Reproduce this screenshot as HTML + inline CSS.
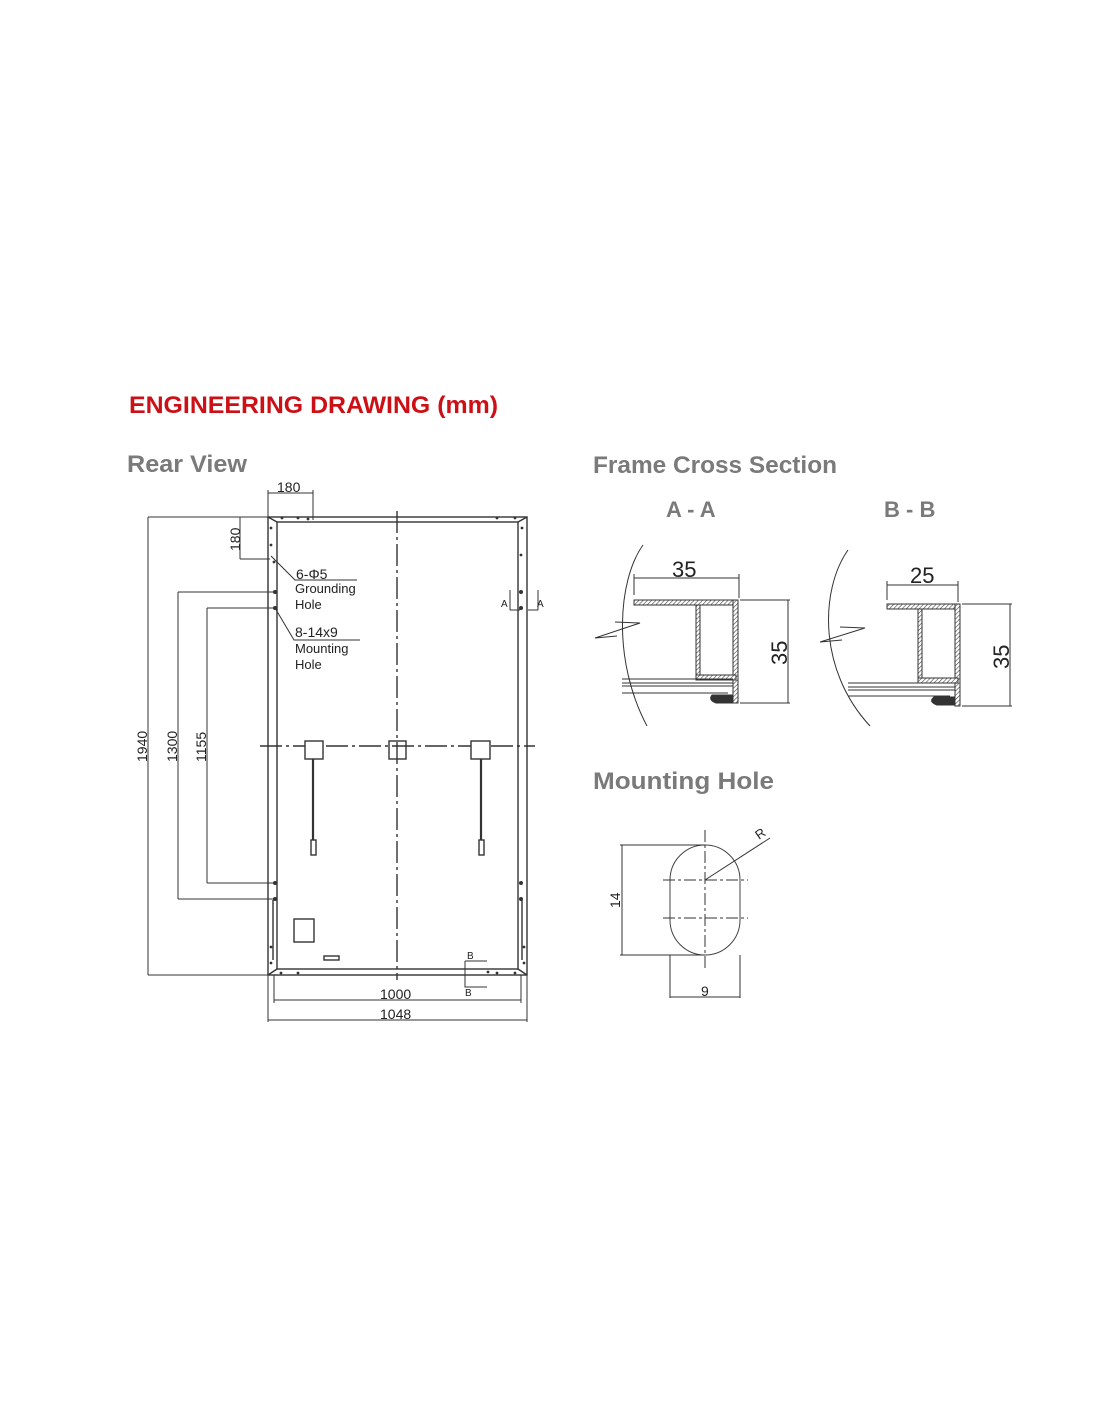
<!DOCTYPE html>
<html><head><meta charset="utf-8"><style>
html,body{margin:0;padding:0;background:#fff;}
svg{display:block;}
text{font-family:"Liberation Sans",sans-serif;}
</style></head><body>
<svg width="1100" height="1422" viewBox="0 0 1100 1422" xmlns="http://www.w3.org/2000/svg">
<defs>
<pattern id="h" width="3" height="3" patternUnits="userSpaceOnUse" patternTransform="rotate(45)"><rect width="3" height="3" fill="#fff"/><line x1="0" y1="0" x2="0" y2="3" stroke="#444" stroke-width="1.2"/></pattern>
</defs>
<text x="129" y="413" font-size="24" font-weight="bold" fill="#cc1016" textLength="369" lengthAdjust="spacingAndGlyphs">ENGINEERING DRAWING (mm)</text>
<text x="127" y="472" font-size="24" font-weight="bold" fill="#7a7a7a" textLength="120" lengthAdjust="spacingAndGlyphs">Rear View</text>
<text x="593" y="473" font-size="24" font-weight="bold" fill="#7a7a7a" textLength="244" lengthAdjust="spacingAndGlyphs">Frame Cross Section</text>
<text x="666" y="517" font-size="22" font-weight="bold" fill="#7a7a7a">A - A</text>
<text x="884" y="517" font-size="22" font-weight="bold" fill="#7a7a7a">B - B</text>
<text x="593" y="789" font-size="24" font-weight="bold" fill="#7a7a7a" textLength="181" lengthAdjust="spacingAndGlyphs">Mounting Hole</text>

<g stroke="#333" fill="none" stroke-width="1.4">
<rect x="268" y="517" width="259" height="458"/>
<rect x="277" y="522" width="241" height="447"/>
<path d="M268 517 L277 522 M527 517 L518 522 M268 975 L277 969 M527 975 L518 969"/>
<path d="M397 511 V980" stroke-dasharray="22 4 3 4"/>
<path d="M260 746 H535" stroke-dasharray="22 4 3 4"/>
<rect x="305" y="741" width="18" height="18" fill="#fff"/>
<rect x="389" y="741" width="17" height="18"/>
<rect x="471" y="741" width="19" height="18" fill="#fff"/>
<path d="M313 759 V840 M481 759 V840" stroke-width="2.2"/>
<rect x="311" y="840" width="5" height="15"/><rect x="479" y="840" width="5" height="15"/>
<rect x="294" y="919" width="20" height="23"/>
<rect x="324" y="956" width="15" height="4"/>
<path d="M273 900 V960 M522 900 V960"/>
<g stroke-width="1">
<path d="M148 517 V975 M148 517 H268 M148 975 H268"/>
<path d="M178 592 V899 M178 592 H275 M178 899 H275"/>
<path d="M207 608 V883 M207 608 H275 M207 883 H275"/>
<path d="M268 493 H313 M268 490 V520 M313 490 V520"/>
<path d="M240 517 V559 M240 559 H270"/>
<path d="M274 1000 H521 M268 1020 H527 M274 975 V1003 M521 975 V1003 M268 975 V1022 M527 975 V1022"/>
<path d="M271 556 L295 580 H357 M275 608 L294 640 H360"/>
<path d="M465 961 H487 M465 961 V987 H487"/>
<path d="M510 610 H520 M510 610 V590 M538 610 H528 M538 610 V590"/>
</g>
</g>
<g fill="#333">
<circle cx="282" cy="518" r="1.4"/><circle cx="298" cy="518" r="1.4"/><circle cx="308" cy="519" r="1.4"/><circle cx="497" cy="518" r="1.4"/><circle cx="515" cy="518" r="1.4"/>
<circle cx="271" cy="528" r="1.4"/><circle cx="271" cy="545" r="1.4"/><circle cx="274" cy="562" r="1.4"/><circle cx="275" cy="592" r="2"/><circle cx="275" cy="608" r="2"/>
<circle cx="275" cy="883" r="2"/><circle cx="275" cy="899" r="2"/><circle cx="271" cy="947" r="1.4"/><circle cx="271" cy="963" r="1.4"/>
<circle cx="521" cy="592" r="2"/><circle cx="521" cy="608" r="2"/><circle cx="522" cy="528" r="1.4"/><circle cx="521" cy="555" r="1.4"/><circle cx="521" cy="883" r="2"/><circle cx="521" cy="899" r="2"/><circle cx="524" cy="947" r="1.4"/><circle cx="524" cy="963" r="1.4"/>
<circle cx="281" cy="973" r="1.4"/><circle cx="298" cy="973" r="1.4"/><circle cx="488" cy="972" r="1.4"/><circle cx="497" cy="973" r="1.4"/><circle cx="515" cy="973" r="1.4"/>
</g>
<g font-size="14" fill="#222">
<text x="277" y="492">180</text>
<text transform="translate(240,551) rotate(-90)">180</text>
<text transform="translate(147,762) rotate(-90)">1940</text>
<text transform="translate(177,762) rotate(-90)">1300</text>
<text transform="translate(206,762) rotate(-90)">1155</text>
<text x="380" y="999">1000</text>
<text x="380" y="1019">1048</text>
<text x="296" y="579" font-size="14">6-Φ5</text>
<text x="295" y="593" font-size="13">Grounding</text>
<text x="295" y="609" font-size="13">Hole</text>
<text x="295" y="637" font-size="14">8-14x9</text>
<text x="295" y="653" font-size="13">Mounting</text>
<text x="295" y="669" font-size="13">Hole</text>
<text x="467" y="959" font-size="10">B</text><text x="465" y="996" font-size="10">B</text>
<text x="501" y="607" font-size="10">A</text><text x="537" y="607" font-size="10">A</text>
</g>

<g stroke="#333" fill="none" stroke-width="1">
<path d="M643 545 C618 580 612 660 647 726"/>
<path d="M615 622 L640 623 L595 638 L617 636"/>
<rect x="634" y="600" width="104" height="5" fill="url(#h)"/>
<rect x="733" y="600" width="5" height="103" fill="url(#h)"/>
<rect x="696" y="605" width="4" height="73" fill="url(#h)"/>
<rect x="696" y="675" width="40" height="5" fill="url(#h)"/>
<path d="M622 679 H733 M622 683 H733 M622 686 H733 M622 693 H728"/>
<path d="M733 695 H712 Q708 700 716 703 H733 Z" fill="#333"/>
<path d="M634 578 H739 M634 574 V595 M739 574 V598 M740 600 H790 M740 703 H790 M788 600 V703"/>
<path d="M848 550 C820 590 818 670 870 726"/>
<path d="M840 627 L865 628 L820 642 L842 640"/>
<rect x="887" y="604" width="72" height="5" fill="url(#h)"/>
<rect x="955" y="604" width="5" height="102" fill="url(#h)"/>
<rect x="918" y="609" width="4" height="73" fill="url(#h)"/>
<rect x="918" y="678" width="40" height="5" fill="url(#h)"/>
<path d="M848 683 H955 M848 687 H955 M848 690 H955 M848 696 H950"/>
<path d="M955 697 H934 Q928 702 937 705 H955 Z" fill="#333"/>
<path d="M887 585 H958 M887 581 V600 M958 581 V602 M962 604 H1012 M962 706 H1012 M1010 604 V706"/>
<rect x="670" y="845" width="70" height="110" rx="35" ry="35" stroke="#444"/>
<path d="M705 830 V968" stroke-dasharray="12 3 3 3"/>
<path d="M663 880 H748 M663 918 H748" stroke-dasharray="12 3 3 3"/>
<path d="M705 880 L770 838"/>
<path d="M620 845 H705 M620 955 H705 M622 845 V955"/>
<path d="M670 955 V998 M740 955 V998 M670 997 H740"/>
</g>
<g fill="#222">
<text x="672" y="577" font-size="22">35</text>
<text x="910" y="583" font-size="22">25</text>
<text transform="translate(787,665) rotate(-90)" font-size="22">35</text>
<text transform="translate(1009,669) rotate(-90)" font-size="22">35</text>
<text transform="translate(620,908) rotate(-90)" font-size="14">14</text>
<text x="701" y="996" font-size="14">9</text>
<text transform="translate(759,840) rotate(-35)" font-size="13">R</text>
</g>
</svg>
</body></html>
